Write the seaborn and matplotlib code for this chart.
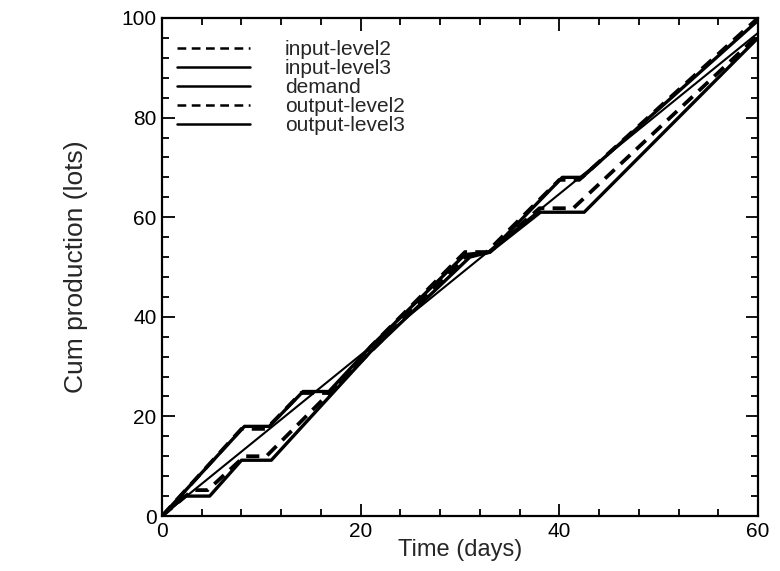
import matplotlib
matplotlib.use("Agg")
import matplotlib.pyplot as plt
from matplotlib.ticker import MultipleLocator
import seaborn as sns
import pandas as pd

# ---- data (days, cumulative lots) ----
input_level2_x = [0, 8, 10.5, 14, 17, 21, 30.5, 32.7, 40, 42, 60]
input_level2_y = [0, 17.5, 17.5, 24.7, 24.7, 34, 53, 53, 67.5, 67.5, 100]

input_level3_x = [0, 8.3, 10.8, 14.2, 16.8, 21, 30.5, 33, 40.3, 42.3, 60]
input_level3_y = [0, 18, 18, 25, 25, 34, 52.5, 53, 68, 68, 99.5]

demand_x = [0, 60]
demand_y = [0, 97]

output_level2_x = [0, 3.1, 4.6, 8.3, 10.5, 21, 30.5, 33, 38, 41.4, 60]
output_level2_y = [0, 5.2, 5.2, 12, 12, 33, 52, 53, 61.8, 61.8, 96.5]

output_level3_x = [0, 2.3, 4.8, 8, 11, 21, 31, 33, 38.1, 42.5, 60]
output_level3_y = [0, 4, 4, 11.2, 11.2, 33, 52, 53, 61, 61, 96]

series_names = ["input-level2", "input-level3", "demand", "output-level2", "output-level3"]
x_ticks = [0, 20, 40, 60]
y_ticks = [0, 20, 40, 60, 80, 100]

frames = []
for name, xs, ys in [
    ("input-level2", input_level2_x, input_level2_y),
    ("input-level3", input_level3_x, input_level3_y),
    ("demand", demand_x, demand_y),
    ("output-level2", output_level2_x, output_level2_y),
    ("output-level3", output_level3_x, output_level3_y),
]:
    frames.append(pd.DataFrame({"time": xs, "cum": ys, "series": name}))
df = pd.concat(frames, ignore_index=True)

sns.set_style("ticks")
plt.rcParams["font.family"] = ["Liberation Sans", "DejaVu Sans"]

fig = plt.figure(figsize=(7.8, 5.71), dpi=100)
ax = fig.add_axes([0.2077, 0.0963, 0.9718 - 0.2077, 0.9685 - 0.0963])

styles = {
    "input-level2": dict(ls=(0, (3.5, 2.2)), lw=2.7),
    "input-level3": dict(ls="-", lw=2.4),
    "demand": dict(ls="-", lw=1.5),
    "output-level2": dict(ls=(0, (3.5, 2.2)), lw=2.7),
    "output-level3": dict(ls="-", lw=2.4),
}
for name in series_names:
    sub = df[df["series"] == name]
    sns.lineplot(data=sub, x="time", y="cum", ax=ax, color="black",
                 linestyle=styles[name]["ls"], linewidth=styles[name]["lw"],
                 sort=False, estimator=None, label=name)

ax.set_xlim(0, 60)
ax.set_ylim(0, 100)
ax.set_xticks(x_ticks)
ax.set_yticks(y_ticks)
ax.xaxis.set_minor_locator(MultipleLocator(4))
ax.yaxis.set_minor_locator(MultipleLocator(4))
ax.tick_params(which="both", direction="in", top=True, right=True,
               labelsize=15, width=1.3, colors="black")
ax.tick_params(which="major", length=9, pad=4)
ax.tick_params(which="minor", length=5)
for sp in ax.spines.values():
    sp.set_linewidth(1.6)
    sp.set_color("black")

ax.set_xlabel("Time (days)", fontsize=17, labelpad=-1)
ax.set_ylabel("Cum production (lots)", fontsize=19, labelpad=24)

leg = ax.legend(loc="upper left", bbox_to_anchor=(0.0, 0.985), frameon=False,
                fontsize=15, handlelength=3.5, handletextpad=1.7,
                labelspacing=0.0, borderaxespad=0.3)
for line in leg.get_lines():
    line.set_linewidth(1.8)

fig.savefig("out.png", dpi=100)
